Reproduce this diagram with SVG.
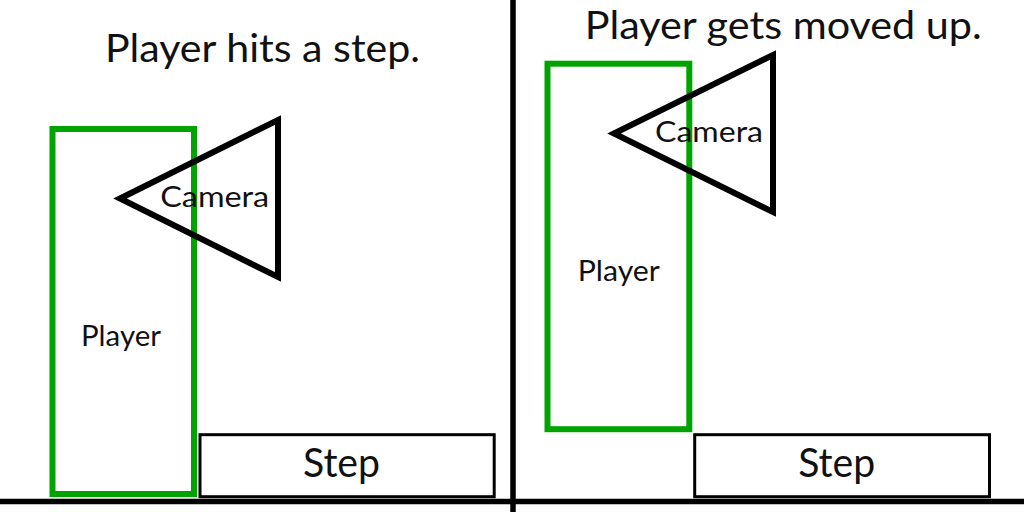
<svg xmlns="http://www.w3.org/2000/svg" width="1024" height="512" viewBox="0 0 1024 512">
<style>
  text { font-family: Lato, "Open Sans", "Liberation Sans", sans-serif; font-weight: 400; fill: #111; text-anchor: middle; }
  .title { font-size: 38px; }
  .step { font-size: 40px; }
  .lbl { font-size: 29px; }
  .player { fill: none; stroke: #00a400; stroke-width: 6; }
  .cam { fill: none; stroke: #000; stroke-width: 6; stroke-linejoin: miter; }
  .stepbox { fill: #fff; stroke: #000; stroke-width: 3; }
  .rule { stroke: #000; stroke-width: 5.5; }
</style>
<rect width="1024" height="512" fill="#fff"/>
<g id="dividers">
  <line class="rule" x1="513" y1="0" x2="513" y2="512"/>
  <line class="rule" x1="0" y1="501.5" x2="1024" y2="501.5"/>
</g>
<g id="left-panel">
  <text class="title" x="262.5" y="61.7" textLength="315" lengthAdjust="spacingAndGlyphs">Player hits a step.</text>
  <g id="step-left">
    <rect class="stepbox" x="200" y="434.7" width="294.2" height="62"/>
    <text class="step" x="341.5" y="476.7" textLength="77" lengthAdjust="spacingAndGlyphs">Step</text>
  </g>
  <g id="player-left">
    <rect class="player" x="52.5" y="129" width="141.5" height="365"/>
    <text class="lbl" x="121" y="346" textLength="80" lengthAdjust="spacingAndGlyphs">Player</text>
  </g>
  <g id="camera-left">
    <polygon class="cam" points="120,198.5 278,120 278,277"/>
    <text class="lbl" x="214.7" y="207.3" textLength="109" lengthAdjust="spacingAndGlyphs">Camera</text>
  </g>
</g>
<g id="right-panel">
  <text class="title" x="783.3" y="39.3" textLength="397" lengthAdjust="spacingAndGlyphs">Player gets moved up.</text>
  <g id="step-right">
    <rect class="stepbox" x="694.7" y="434.7" width="294.8" height="62"/>
    <text class="step" x="836.7" y="476.7" textLength="77" lengthAdjust="spacingAndGlyphs">Step</text>
  </g>
  <g id="player-right">
    <rect class="player" x="547.5" y="63.7" width="141.8" height="365.5"/>
    <text class="lbl" x="618.8" y="280.7" textLength="82" lengthAdjust="spacingAndGlyphs">Player</text>
  </g>
  <g id="camera-right">
    <polygon class="cam" points="614,133.5 773,55 773,212"/>
    <text class="lbl" x="709" y="141.7" textLength="108" lengthAdjust="spacingAndGlyphs">Camera</text>
  </g>
</g>
</svg>
